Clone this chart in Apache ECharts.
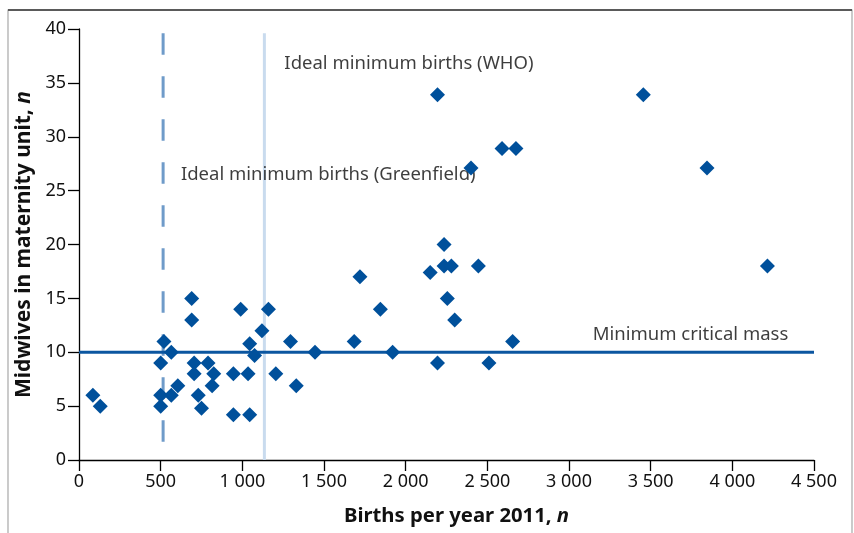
<!DOCTYPE html>
<html>
<head>
<meta charset="utf-8">
<script src="https://cdn.jsdelivr.net/npm/echarts@6/dist/echarts.min.js"></script>
<style>
html,body{margin:0;padding:0;background:#fff;}
#chart{width:854px;height:533px;}
</style>
</head>
<body>
<div id="chart"></div>
<script>
// Births per year 2011 (x) and midwives in maternity unit (y)
const births = [85,130,500,520,565,500,500,565,605,690,690,705,705,730,750,790,825,815,945,945,990,1035,1045,1045,1075,1120,1160,1205,1295,1330,1445,1685,1720,1845,1920,2150,2195,2195,2235,2235,2255,2280,2300,2400,2445,2510,2590,2655,2675,3455,3845,4215];
const midwives = [6,5,9,11,10,6,5,6,6.9,15,13,9,8,6,4.8,9,8,6.9,8,4.2,14,8,10.8,4.2,9.7,12,14,8,11,6.9,10,11,17,14,10,17.4,9,33.9,20,18,15,18,13,27.1,18,9,28.9,11,28.9,33.9,27.1,18];

// Reference values
const whoMinBirths = 1135;
const greenfieldMinBirths = 515;
const criticalMass = 10;
const refLineTop = 39.6;
const greenfieldBottom = 1.7;

// Annotations: [x, y, text]
const annotations = [
  [1257, 36.75, 'Ideal minimum births (WHO)'],
  [624, 26.5, 'Ideal minimum births (Greenfield)'],
  [3145, 11.62, 'Minimum critical mass']
];

// Axis ticks
const xMin = 0, xMax = 4500, xStep = 500;
const yMin = 0, yMax = 40, yStep = 5;

const fmtThousands = v => v >= 1000 ? Math.floor(v/1000) + ' ' + String(v % 1000).padStart(3, '0') : String(v);

const chart = echarts.init(document.getElementById('chart'), null, {renderer: 'canvas'});
const FONT = '"Noto Sans", "Open Sans", sans-serif';

const option = {
  animation: false,
  backgroundColor: '#fff',
  textStyle: {fontFamily: FONT},
  graphic: [
    {type: 'rect', silent: true, z: -10, shape: {x: 8, y: 10, width: 844, height: 600},
     style: {fill: 'none', stroke: '#a8a8a8', lineWidth: 1.2}},
    {type: 'line', silent: true, z: -9, shape: {x1: 8, y1: 10, x2: 852, y2: 10},
     style: {stroke: '#5a5a5a', lineWidth: 2}}
  ],
  grid: {left: 79, right: 40, top: 29, bottom: 73, containLabel: false},
  xAxis: {
    type: 'value', min: xMin, max: xMax, interval: xStep,
    name: '{b|Births per year 2011, }{i|n}',
    nameLocation: 'middle', nameGap: 46,
    nameTextStyle: {padding: [0, 0, 0, 20], rich: {
      b: {fontFamily: FONT, fontWeight: 'bold', fontSize: 20.3, color: '#111'},
      i: {fontFamily: FONT, fontWeight: 'bold', fontStyle: 'italic', fontSize: 20.3, color: '#111'}
    }},
    axisLine: {show: true, lineStyle: {color: '#000', width: 1.3}},
    axisTick: {show: true, length: 11, lineStyle: {color: '#000', width: 1.3}},
    axisLabel: {fontFamily: FONT, fontSize: 18, color: '#111', margin: 13, formatter: fmtThousands},
    splitLine: {show: false}
  },
  yAxis: {
    type: 'value', min: yMin, max: yMax, interval: yStep,
    name: '{b|Midwives in maternity unit, }{i|n}',
    nameLocation: 'middle', nameGap: 38, nameRotate: 90,
    nameTextStyle: {rich: {
      b: {fontFamily: FONT, fontWeight: 'bold', fontSize: 21, color: '#111'},
      i: {fontFamily: FONT, fontWeight: 'bold', fontStyle: 'italic', fontSize: 21, color: '#111'}
    }},
    axisLine: {show: true, lineStyle: {color: '#000', width: 1.3}},
    axisTick: {show: true, length: 11, lineStyle: {color: '#000', width: 1.3}},
    axisLabel: {fontFamily: FONT, fontSize: 18, color: '#111', margin: 13},
    splitLine: {show: false}
  },
  series: [
    {
      type: 'line', name: 'WHO', z: 1, symbol: 'none', silent: true,
      data: [[whoMinBirths, yMin], [whoMinBirths, refLineTop]],
      lineStyle: {color: '#c9dbee', width: 3}
    },
    {
      type: 'line', name: 'Greenfield', z: 2, symbol: 'none', silent: true,
      data: [[greenfieldMinBirths, refLineTop], [greenfieldMinBirths, greenfieldBottom]],
      lineStyle: {color: '#6f9bc9', width: 3, type: [21.5, 21.5]}
    },
    {
      type: 'scatter', name: 'labels', z: 3, silent: true,
      symbolSize: 0.1, itemStyle: {color: 'transparent'},
      data: annotations.map(a => ({value: [a[0], a[1]], label: {formatter: a[2]}})),
      label: {show: true, position: 'right', distance: 0, align: 'left', verticalAlign: 'middle',
              fontFamily: FONT, fontSize: 18.5, color: '#0d0d0d'}
    },
    {
      type: 'line', name: 'Critical mass', z: 4, symbol: 'none', silent: true,
      data: [[xMin, criticalMass], [xMax, criticalMass]],
      lineStyle: {color: '#0b56a0', width: 3}
    },
    {
      type: 'scatter', name: 'Units', z: 5,
      symbol: 'diamond', symbolSize: 15,
      itemStyle: {color: '#00509b', opacity: 1},
      data: births.map((b, i) => [b, midwives[i]])
    }
  ]
};
chart.setOption(option);
</script>
</body>
</html>
